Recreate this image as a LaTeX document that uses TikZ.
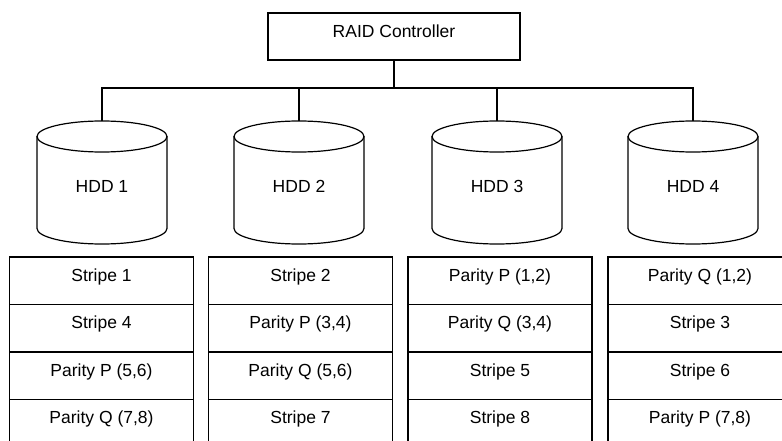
\documentclass[tikz,border=0pt]{standalone}
\usepackage{fontspec}
\setmainfont{Liberation Sans}
\begin{document}
\begin{tikzpicture}[x=1pt,y=-1pt,
  every node/.style={font=\fontsize{17.5}{20}\selectfont, inner sep=0pt},
  ln/.style={line width=1.2pt, black},
  ctrlbox/.style={draw, line width=1.2pt, minimum width=252pt, minimum height=47pt, text height=12.6pt, text depth=11pt},
  cell/.style={draw, line width=1.2pt, minimum width=184pt, minimum height=47.5pt, text height=12.6pt, text depth=11.5pt},
  hddlabel/.style={text height=12.6pt, text depth=0pt}]
\useasboundingbox (0,0) rectangle (782,441);
\clip (0,0) rectangle (782,441);

% controller
\node[ctrlbox] (ctrl) at (394,36.5) {RAID Controller};

% cylinders
\foreach \i/\cx in {1/102,2/299,3/497,4/693}{
  \draw[ln] (\cx-65,136.5) -- (\cx-65,228.5)
     arc[start angle=180,end angle=0,x radius=65,y radius=15.5] -- (\cx+65,136.5);
  \draw[ln] (\cx,136.5) ellipse [x radius=65, y radius=15.5];
  \coordinate (top\i) at (\cx,121);
  \node[hddlabel] (hdd\i) at (\cx,186.5) {HDD \i};
}

% bus
\coordinate (bus) at (394,88);
\draw[ln] (ctrl.south) -- (ctrl.south |- bus);
\draw[ln] (top1) -- (top1 |- bus) -- (top4 |- bus) -- (top4);
\draw[ln] (top2) -- (top2 |- bus);
\draw[ln] (top3) -- (top3 |- bus);

% stripe tables
\foreach \c/\cx/\a/\b/\cc/\d in {
  1/101.5/Stripe 1/Stripe 4/{Parity P (5,6)}/{Parity Q (7,8)},
  2/300.5/Stripe 2/{Parity P (3,4)}/{Parity Q (5,6)}/Stripe 7,
  3/500/{Parity P (1,2)}/{Parity Q (3,4)}/Stripe 5/Stripe 8,
  4/700/{Parity Q (1,2)}/Stripe 3/Stripe 6/{Parity P (7,8)}}{
  \node[cell] (c\c r1) at (\cx,280.75) {\a};
  \node[cell] (c\c r2) at (\cx,328.25) {\b};
  \node[cell] (c\c r3) at (\cx,375.75) {\cc};
  \node[cell] (c\c r4) at (\cx,423.25) {\d};
}
\end{tikzpicture}
\end{document}
